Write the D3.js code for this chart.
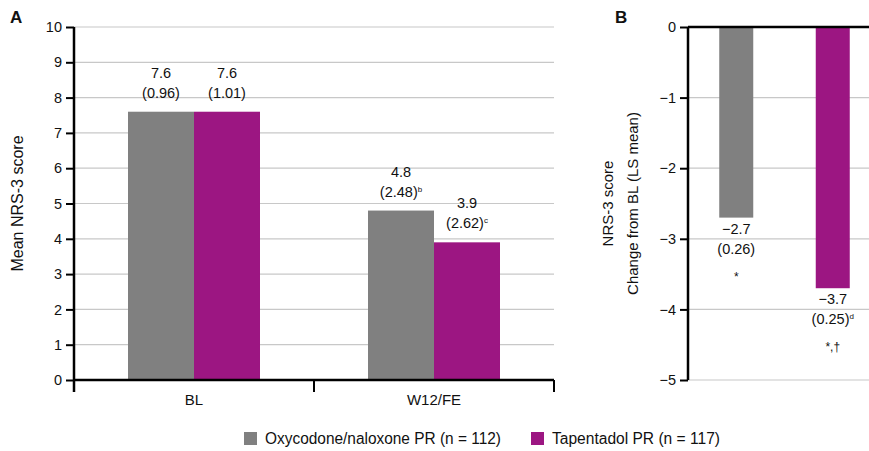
<!DOCTYPE html>
<html><head><meta charset="utf-8">
<script src="https://cdn.jsdelivr.net/npm/d3@7"></script>
<style>body{margin:0;background:#fff}svg{display:block}text{font-family:"Liberation Sans",Arial,sans-serif;fill:#111}</style>
</head><body><div id="c"></div>
<script>
const series = ["Oxycodone/naloxone PR (n = 112)", "Tapentadol PR (n = 117)"];
const colors = ["#808080", "#9c1682"];
const categoriesA = ["BL", "W12/FE"];
const meanOxy = [7.6, 4.8];
const meanTap = [7.6, 3.9];
const sdOxy = ["0.96", "2.48"];
const sdTap = ["1.01", "2.62"];
const supOxy = ["", "b"];
const supTap = ["", "c"];
const ticksA = [0,1,2,3,4,5,6,7,8,9,10];
const changeB = [-2.7, -3.7];
const seB = ["0.26", "0.25"];
const supB = ["", "d"];
const sigB = ["*", "*,†"];
const ticksB = [0,-1,-2,-3,-4,-5];

const W = 869, H = 451;
const svg = d3.select("#c").append("svg").attr("width", W).attr("height", H);
const fs = 14.5;

// Panel A
const A = {l: 74, r: 554, t: 27, b: 380};
const yA = d3.scaleLinear().domain([0, 10]).range([A.b, A.t]);
const xA = d3.scaleBand().domain(categoriesA).range([A.l, A.r]);
const gA = svg.append("g");
gA.selectAll("line.grid").data(ticksA.filter(d => d > 0)).join("line")
  .attr("x1", A.l).attr("x2", A.r).attr("y1", d => yA(d)).attr("y2", d => yA(d))
  .attr("stroke", "#c8c8c8").attr("stroke-width", 1.2);
const bw = 66;
const dataA = categoriesA.map((c, i) => [
  {c, s: 0, v: meanOxy[i], sd: sdOxy[i], sup: supOxy[i]},
  {c, s: 1, v: meanTap[i], sd: sdTap[i], sup: supTap[i]}]).flat();
gA.selectAll("rect").data(dataA).join("rect")
  .attr("x", d => xA(d.c) + xA.bandwidth()/2 - bw + d.s*bw)
  .attr("width", bw)
  .attr("y", d => yA(d.v)).attr("height", d => yA(0) - yA(d.v))
  .attr("fill", d => colors[d.s]);
dataA.forEach(d => {
  const cx = xA(d.c) + xA.bandwidth()/2 - bw/2 + d.s*bw;
  const top = yA(d.v);
  gA.append("text").attr("x", cx).attr("y", top - 34).attr("text-anchor", "middle").attr("font-size", fs).text(d.v.toFixed(1));
  const t = gA.append("text").attr("x", cx).attr("y", top - 14).attr("text-anchor", "middle").attr("font-size", fs);
  t.append("tspan").text("(" + d.sd + ")");
  if (d.sup) t.append("tspan").attr("dy", -5).attr("font-size", 8).text(d.sup);
});
// axes A
const axA = gA.append("g").attr("transform", `translate(${A.l},0)`)
  .call(d3.axisLeft(yA).tickValues(ticksA).tickSize(8).tickPadding(4));
axA.select(".domain").remove();
axA.selectAll(".tick line").attr("stroke", "#000").attr("stroke-width", 2);
axA.selectAll(".tick text").attr("font-size", fs).attr("font-family", null).attr("fill", "#111");
gA.append("line").attr("x1", A.l).attr("x2", A.l).attr("y1", A.t).attr("y2", A.b + 12).attr("stroke", "#000").attr("stroke-width", 2.5);
gA.append("line").attr("x1", A.l).attr("x2", A.r).attr("y1", A.b).attr("y2", A.b).attr("stroke", "#000").attr("stroke-width", 2.5);
const bounds = [A.l, ...categoriesA.map(c => xA(c) + xA.bandwidth())];
gA.selectAll("line.xt").data(bounds.slice(1)).join("line")
  .attr("x1", d => d).attr("x2", d => d).attr("y1", A.b).attr("y2", A.b + 12).attr("stroke", "#000").attr("stroke-width", 2);
gA.selectAll("text.cat").data(categoriesA).join("text")
  .attr("x", d => xA(d) + xA.bandwidth()/2).attr("y", A.b + 25).attr("text-anchor", "middle").attr("font-size", 15).text(d => d);
gA.append("text").attr("transform", `translate(23,${(A.t+A.b)/2}) rotate(-90)`).attr("text-anchor", "middle").attr("font-size", 16).text("Mean NRS-3 score");
gA.append("text").attr("x", 10).attr("y", 23).attr("font-size", 17).attr("font-weight", "bold").text("A");

// Panel B
const B = {l: 688, r: 869, t: 27, b: 380};
const yB = d3.scaleLinear().domain([-5, 0]).range([B.b, B.t]);
const xB = d3.scaleBand().domain([0, 1]).range([B.l, B.l + 193]);
const gB = svg.append("g");
gB.selectAll("line.grid").data(ticksB.filter(d => d < 0)).join("line")
  .attr("x1", B.l).attr("x2", B.r).attr("y1", d => yB(d)).attr("y2", d => yB(d))
  .attr("stroke", "#c8c8c8").attr("stroke-width", 1.2);
const bwB = 34;
gB.selectAll("rect").data(changeB).join("rect")
  .attr("x", (d, i) => xB(i) + xB.bandwidth()/2 - bwB/2).attr("width", bwB)
  .attr("y", yB(0)).attr("height", d => yB(d) - yB(0))
  .attr("fill", (d, i) => colors[i]);
changeB.forEach((v, i) => {
  const cx = xB(i) + xB.bandwidth()/2;
  const bot = yB(v);
  gB.append("text").attr("x", cx).attr("y", bot + 16).attr("text-anchor", "middle").attr("font-size", fs).text("\u2212" + Math.abs(v).toFixed(1));
  const t = gB.append("text").attr("x", cx).attr("y", bot + 36).attr("text-anchor", "middle").attr("font-size", fs);
  t.append("tspan").text("(" + seB[i] + ")");
  if (supB[i]) t.append("tspan").attr("dy", -5).attr("font-size", 8).text(supB[i]);
  gB.append("text").attr("x", cx).attr("y", bot + 63).attr("text-anchor", "middle").attr("font-size", 12).style("fill", "#111").text(sigB[i]);
});
const axB = gB.append("g").attr("transform", `translate(${B.l},0)`)
  .call(d3.axisLeft(yB).tickValues(ticksB).tickSize(8).tickPadding(4).tickFormat(d => d === 0 ? "0" : "\u2212" + Math.abs(d)));
axB.select(".domain").remove();
axB.selectAll(".tick line").attr("stroke", "#000").attr("stroke-width", 2);
axB.selectAll(".tick text").attr("font-size", fs).attr("font-family", null).attr("fill", "#111");
gB.append("line").attr("x1", B.l).attr("x2", B.l).attr("y1", B.t).attr("y2", B.b).attr("stroke", "#000").attr("stroke-width", 2.5);
gB.append("line").attr("x1", B.l).attr("x2", B.r).attr("y1", B.t).attr("y2", B.t).attr("stroke", "#000").attr("stroke-width", 2.5);
const lab = gB.append("text").attr("transform", `translate(620,${(B.t+B.b)/2}) rotate(-90)`).attr("text-anchor", "middle").attr("font-size", 15);
lab.append("tspan").attr("x", 0).attr("dy", -7).text("NRS-3 score");
lab.append("tspan").attr("x", 0).attr("dy", 25).text("Change from BL (LS mean)");
gB.append("text").attr("x", 615).attr("y", 23).attr("font-size", 17).attr("font-weight", "bold").text("B");

// Legend
const legX = [244, 531];
const legLen = [236, 168];
const leg = svg.append("g");
series.forEach((s, i) => {
  leg.append("rect").attr("x", legX[i]).attr("y", 432).attr("width", 13).attr("height", 13).attr("fill", colors[i]);
  leg.append("text").attr("x", legX[i] + 21).attr("y", 444).attr("font-size", 16)
    .attr("textLength", legLen[i]).attr("lengthAdjust", "spacingAndGlyphs").text(s);
});
</script></body></html>
